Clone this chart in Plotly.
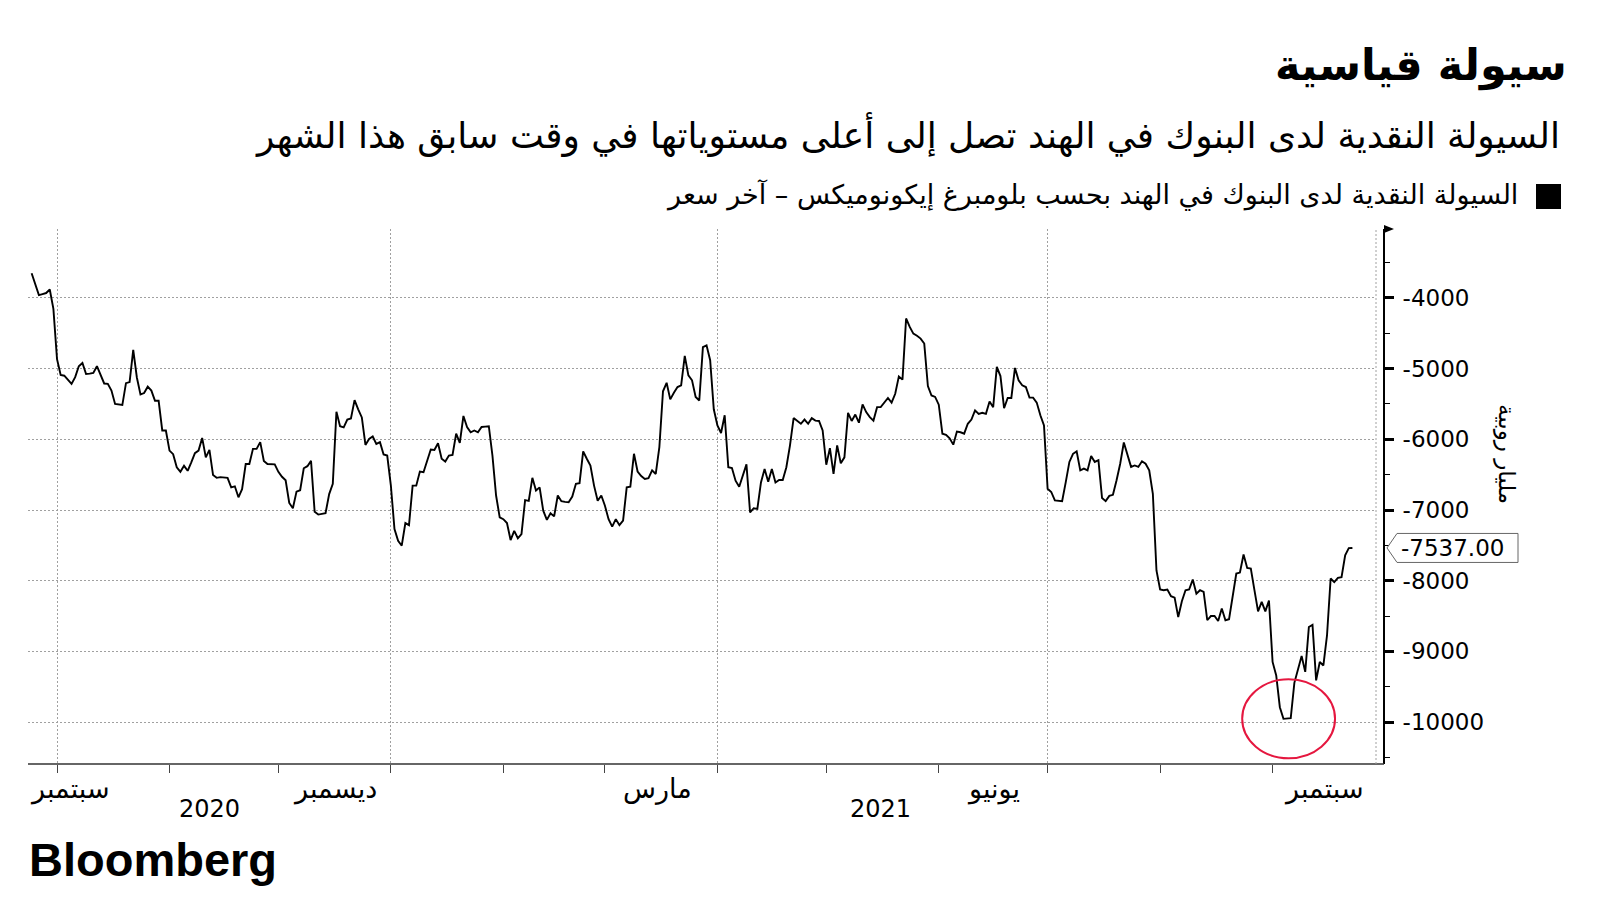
import plotly.graph_objects as go

# ---------------- data ----------------
dates = [
    "2020-09-24", "2020-09-25", "2020-09-26", "2020-09-27", "2020-09-28", "2020-09-29", "2020-09-30",
    "2020-10-01", "2020-10-02", "2020-10-03", "2020-10-04", "2020-10-05", "2020-10-06", "2020-10-07",
    "2020-10-08", "2020-10-09", "2020-10-10", "2020-10-11", "2020-10-12", "2020-10-13", "2020-10-14",
    "2020-10-15", "2020-10-16", "2020-10-17", "2020-10-18", "2020-10-19", "2020-10-20", "2020-10-21",
    "2020-10-22", "2020-10-23", "2020-10-24", "2020-10-25", "2020-10-26", "2020-10-27", "2020-10-28",
    "2020-10-29", "2020-10-30", "2020-10-31",
    "2020-11-01", "2020-11-02", "2020-11-03", "2020-11-04", "2020-11-05", "2020-11-06", "2020-11-07",
    "2020-11-08", "2020-11-09", "2020-11-10", "2020-11-11", "2020-11-12", "2020-11-13", "2020-11-14",
    "2020-11-15", "2020-11-16", "2020-11-17", "2020-11-18", "2020-11-19", "2020-11-20", "2020-11-21",
    "2020-11-22", "2020-11-23", "2020-11-24", "2020-11-25", "2020-11-26", "2020-11-27", "2020-11-28",
    "2020-11-29", "2020-11-30",
    "2020-12-01", "2020-12-02", "2020-12-03", "2020-12-04", "2020-12-05", "2020-12-06", "2020-12-07",
    "2020-12-08", "2020-12-09", "2020-12-10", "2020-12-11", "2020-12-12", "2020-12-13", "2020-12-14",
    "2020-12-15", "2020-12-16", "2020-12-17", "2020-12-18", "2020-12-19", "2020-12-20", "2020-12-21",
    "2020-12-22", "2020-12-23", "2020-12-24", "2020-12-25", "2020-12-26", "2020-12-27", "2020-12-28",
    "2020-12-29", "2020-12-30", "2020-12-31",
    "2021-01-01", "2021-01-02", "2021-01-03", "2021-01-04", "2021-01-05", "2021-01-06", "2021-01-07",
    "2021-01-08", "2021-01-09", "2021-01-10", "2021-01-12", "2021-01-13", "2021-01-14", "2021-01-15",
    "2021-01-16", "2021-01-17", "2021-01-18", "2021-01-19", "2021-01-20", "2021-01-21", "2021-01-22",
    "2021-01-23", "2021-01-24", "2021-01-25", "2021-01-26", "2021-01-27", "2021-01-28", "2021-01-29",
    "2021-01-30", "2021-01-31",
    "2021-02-01", "2021-02-02", "2021-02-03", "2021-02-04", "2021-02-05", "2021-02-06", "2021-02-07",
    "2021-02-08", "2021-02-09", "2021-02-10", "2021-02-11", "2021-02-12", "2021-02-13", "2021-02-14",
    "2021-02-15", "2021-02-16", "2021-02-17", "2021-02-18", "2021-02-19", "2021-02-20", "2021-02-21",
    "2021-02-22", "2021-02-23", "2021-02-24", "2021-02-25", "2021-02-26", "2021-02-27", "2021-02-28",
    "2021-03-01", "2021-03-02", "2021-03-03", "2021-03-04", "2021-03-05", "2021-03-06", "2021-03-07",
    "2021-03-08", "2021-03-09", "2021-03-10", "2021-03-11", "2021-03-12", "2021-03-13", "2021-03-14",
    "2021-03-15", "2021-03-16", "2021-03-17", "2021-03-18", "2021-03-19", "2021-03-20", "2021-03-21",
    "2021-03-22", "2021-03-23", "2021-03-24", "2021-03-25", "2021-03-26", "2021-03-27", "2021-03-28",
    "2021-03-29", "2021-03-30", "2021-03-31",
    "2021-04-01", "2021-04-02", "2021-04-03", "2021-04-04", "2021-04-05", "2021-04-06", "2021-04-07",
    "2021-04-09", "2021-04-10", "2021-04-11", "2021-04-12", "2021-04-13", "2021-04-14", "2021-04-15",
    "2021-04-16", "2021-04-17", "2021-04-18", "2021-04-19", "2021-04-20", "2021-04-21", "2021-04-22",
    "2021-04-23", "2021-04-24", "2021-04-25", "2021-04-26", "2021-04-27", "2021-04-28", "2021-04-29",
    "2021-04-30",
    "2021-05-01", "2021-05-02", "2021-05-03", "2021-05-04", "2021-05-05", "2021-05-06", "2021-05-07",
    "2021-05-08", "2021-05-09", "2021-05-10", "2021-05-11", "2021-05-12", "2021-05-13", "2021-05-14",
    "2021-05-15", "2021-05-16", "2021-05-18", "2021-05-19", "2021-05-20", "2021-05-21", "2021-05-22",
    "2021-05-23", "2021-05-24", "2021-05-25", "2021-05-26", "2021-05-27", "2021-05-28", "2021-05-29",
    "2021-05-30", "2021-05-31",
    "2021-06-01", "2021-06-02", "2021-06-03", "2021-06-04", "2021-06-05", "2021-06-06", "2021-06-07",
    "2021-06-08", "2021-06-09", "2021-06-10", "2021-06-11", "2021-06-12", "2021-06-13", "2021-06-14",
    "2021-06-15", "2021-06-16", "2021-06-17", "2021-06-18", "2021-06-19", "2021-06-20", "2021-06-21",
    "2021-06-22", "2021-06-23", "2021-06-24", "2021-06-25", "2021-06-26", "2021-06-27", "2021-06-28",
    "2021-06-29", "2021-06-30",
    "2021-07-01", "2021-07-02", "2021-07-03", "2021-07-04", "2021-07-05", "2021-07-06", "2021-07-07",
    "2021-07-08", "2021-07-09", "2021-07-10", "2021-07-11", "2021-07-12", "2021-07-13", "2021-07-14",
    "2021-07-15", "2021-07-16", "2021-07-17", "2021-07-18", "2021-07-19", "2021-07-20", "2021-07-21",
    "2021-07-22", "2021-07-23", "2021-07-24", "2021-07-25", "2021-07-26", "2021-07-27", "2021-07-28",
    "2021-07-29", "2021-07-30", "2021-07-31",
    "2021-08-01", "2021-08-02", "2021-08-03", "2021-08-04", "2021-08-05", "2021-08-06", "2021-08-07",
    "2021-08-08", "2021-08-09", "2021-08-10", "2021-08-11", "2021-08-12", "2021-08-13", "2021-08-14",
    "2021-08-15", "2021-08-16", "2021-08-17", "2021-08-18", "2021-08-19", "2021-08-20", "2021-08-21",
    "2021-08-22", "2021-08-23", "2021-08-24", "2021-08-25", "2021-08-26", "2021-08-27", "2021-08-28",
    "2021-08-29", "2021-08-30", "2021-08-31",
    "2021-09-01", "2021-09-02", "2021-09-03", "2021-09-04", "2021-09-05", "2021-09-06", "2021-09-07",
    "2021-09-08", "2021-09-09", "2021-09-10", "2021-09-11", "2021-09-12", "2021-09-13", "2021-09-14",
    "2021-09-15", "2021-09-16", "2021-09-17", "2021-09-18", "2021-09-19", "2021-09-20", "2021-09-21",
    "2021-09-22", "2021-09-23",
]

liquidity = [
    -3650, -3815, -3960, -3945, -3930, -3880, -4155,
    -4865, -5090, -5100, -5160, -5215, -5120, -4965,
    -4920, -5075, -5070, -5060, -4965, -5075, -5210,
    -5215, -5310, -5500, -5510, -5515, -5205, -5190,
    -4735, -5125, -5365, -5345, -5255, -5310, -5455,
    -5455, -5875, -5875,
    -6160, -6210, -6395, -6460, -6375, -6445, -6325,
    -6195, -6160, -5980, -6255, -6150, -6505, -6545,
    -6535, -6540, -6545, -6680, -6665, -6820, -6705,
    -6350, -6350, -6135, -6135, -6040, -6305, -6350,
    -6350, -6355,
    -6460, -6530, -6580, -6900, -6975, -6740, -6720,
    -6410, -6380, -6305, -7025, -7065, -7055, -7045,
    -6775, -6630, -5610, -5815, -5830, -5720, -5705,
    -5445, -5575, -5690, -6080, -5995, -5960, -6065,
    -6040, -6215, -6230,
    -6650, -7270, -7435, -7505, -7185, -7215, -6655,
    -6655, -6455, -6465, -6145, -6150, -6055, -6275,
    -6315, -6230, -6220, -5920, -6050, -5670, -5825,
    -5900, -5875, -5900, -5825, -5820, -5815, -6230,
    -6795, -7105,
    -7130, -7185, -7425, -7295, -7400, -7340, -6860,
    -6870, -6545, -6725, -6680, -7010, -7140, -7045,
    -7090, -6795, -6875, -6885, -6890, -6810, -6630,
    -6620, -6170, -6275, -6370, -6655, -6870, -6795,
    -6940, -7130, -7235, -7130, -7215, -7150, -6680,
    -6670, -6205, -6455, -6520, -6560, -6550, -6440,
    -6490, -6110, -5320, -5200, -5435, -5340, -5260,
    -5235, -4820, -5095, -5165, -5400, -5450, -4695,
    -4670, -4880, -5575,
    -5805, -5910, -5660, -6395, -6405, -6585, -6670,
    -6355, -7035, -6975, -6985, -6610, -6420, -6600,
    -6420, -6610, -6575, -6575, -6395, -6085, -5700,
    -5735, -5780, -5720, -5780, -5700, -5735, -5740,
    -5875,
    -6360, -6125, -6490, -6085, -6340, -6255, -5625,
    -5740, -5650, -5765, -5505, -5615, -5685, -5735,
    -5545, -5545, -5415, -5480, -5355, -5110, -5155,
    -4290, -4410, -4505, -4535, -4575, -4645, -5245,
    -5380, -5400,
    -5510, -5920, -5935, -5985, -6075, -5890, -5900,
    -5920, -5780, -5720, -5590, -5640, -5625, -5640,
    -5465, -5545, -4975, -5105, -5560, -5415, -5415,
    -4990, -5165, -5235, -5260, -5410, -5410, -5480,
    -5660, -5805,
    -6700, -6745, -6865, -6875, -6875, -6605, -6320,
    -6205, -6170, -6440, -6415, -6440, -6235, -6320,
    -6295, -6830, -6875, -6800, -6785, -6580, -6345,
    -6045, -6205, -6390, -6370, -6390, -6310, -6345,
    -6440, -6770, -7855,
    -8125, -8135, -8125, -8220, -8240, -8515, -8290,
    -8135, -8125, -7985, -8185, -8135, -8160, -8560,
    -8500, -8500, -8570, -8395, -8560, -8545, -8185,
    -7900, -7885, -7630, -7820, -7830, -8135, -8435,
    -8300, -8435, -8280,
    -9150, -9340, -9790, -9955, -9945, -9945, -9445,
    -9245, -9065, -9290, -8655, -8625, -9410, -9150,
    -9200, -8775, -7970, -8020, -7960, -7950, -7640,
    -7540, -7537,
]

last_value = -7537.00

y_tick_values = [-4000, -5000, -6000, -7000, -8000, -9000, -10000]
y_tick_labels = ["-4000", "-5000", "-6000", "-7000", "-8000", "-9000", "-10000"]
y_minor_values = [-3500, -4500, -5500, -6500, -7500, -8500, -9500, -10500]

month_starts = ["2020-10-01", "2020-11-01", "2020-12-01", "2021-01-01", "2021-02-01",
                "2021-03-01", "2021-04-01", "2021-05-01", "2021-06-01", "2021-07-01",
                "2021-08-01", "2021-09-01"]
quarter_starts = ["2020-10-01", "2021-01-01", "2021-04-01", "2021-07-01"]

month_label_dates = ["2020-12-16 12:00", "2021-03-15 12:00", "2021-06-16", "2021-09-15 06:00"]
month_label_texts = ["ديسمبر", "مارس", "يونيو", "سبتمبر"]
first_month_label = "سبتمبر"
year_label_dates = ["2020-11-12", "2021-05-16"]
year_label_texts = ["2020", "2021"]

title_text = "سيولة قياسية"
subtitle_text = "السيولة النقدية لدى البنوك في الهند تصل إلى أعلى مستوياتها في وقت سابق هذا الشهر"
legend_text = "السيولة النقدية لدى البنوك في الهند بحسب بلومبرغ إيكونوميكس – آخر سعر"
y_title_text = "مليار روبية"

# ---------------- layout geometry (pixels) ----------------
W_FIG, H_FIG = 1600, 900
L, R, T, B = 28, 1384, 229, 764
PW, PH = R - L, B - T


def px(x):
    return (x - L) / PW


def py(y):
    return (B - y) / PH


AR_FONT = "DejaVu Sans"
GRID = "#a0a0a0"

fig = go.Figure()
fig.add_trace(go.Scatter(
    x=dates, y=liquidity, mode="lines",
    line=dict(color="black", width=1.9),
    hoverinfo="skip", showlegend=False,
))

fig.update_layout(
    width=W_FIG, height=H_FIG,
    margin=dict(l=L, r=W_FIG - R, t=T, b=H_FIG - B, autoexpand=False),
    paper_bgcolor="white", plot_bgcolor="white",
    showlegend=False,
    font=dict(family=AR_FONT, color="black"),
    xaxis=dict(
        type="date",
        domain=[0, px(1376)],
        range=["2020-09-23", "2021-09-29 12:00"],
        tickmode="array", tickvals=quarter_starts,
        showticklabels=False,
        ticks="outside", ticklen=8, tickcolor="#444", tickwidth=1,
        showgrid=True, gridcolor=GRID, gridwidth=1, griddash="2px,2px",
        minor=dict(tickmode="array", tickvals=month_starts, ticks="outside",
                   ticklen=8, tickcolor="#444", tickwidth=1, showgrid=False),
        showline=False, zeroline=False, fixedrange=True,
    ),
    yaxis=dict(
        side="right", anchor="free", position=1.0,
        range=[-10594, -3024],
        tickmode="array", tickvals=y_tick_values, ticktext=y_tick_labels,
        ticks="outside", ticklen=9, tickwidth=3, tickcolor="black",
        ticklabelstandoff=4,
        tickfont=dict(family="DejaVu Sans", size=23, color="black"),
        minor=dict(tickmode="array", tickvals=y_minor_values, ticks="outside",
                   ticklen=5, tickwidth=1, tickcolor="black", showgrid=False),
        showgrid=True, gridcolor=GRID, gridwidth=1, griddash="2px,2px",
        showline=True, linecolor="black", linewidth=2,
        zeroline=False, fixedrange=True,
    ),
)

shapes = []
# x axis baseline running into the y axis
shapes.append(dict(type="line", xref="paper", yref="paper", x0=0, x1=1, y0=0, y1=0,
                   line=dict(color="#333", width=1.5)))
# dotted right edge of the plot
shapes.append(dict(type="line", xref="paper", yref="paper", x0=px(1376), x1=px(1376), y0=0, y1=1,
                   line=dict(color=GRID, width=1, dash="2px,2px")))
# small arrow at top of y axis
shapes.append(dict(type="path", xref="paper", yref="paper",
                   path=f"M {px(1384)},{py(225)} L {px(1394)},{py(229)} L {px(1384)},{py(233)} Z",
                   fillcolor="black", line=dict(width=0)))
# last value flag
hh = 14.5 / (PH / (-3024 + 10594))
shapes.append(dict(type="path", xref="paper", yref="y",
                   path=(f"M {px(1387)},{last_value} L {px(1397)},{last_value + hh} "
                         f"L {px(1518)},{last_value + hh} L {px(1518)},{last_value - hh} "
                         f"L {px(1397)},{last_value - hh} Z"),
                   fillcolor="white", line=dict(color="#666", width=1)))
# legend square
shapes.append(dict(type="rect", xref="paper", yref="paper",
                   x0=px(1536), x1=px(1561), y0=py(209), y1=py(184),
                   fillcolor="black", line=dict(width=0)))
# red circle highlighting the trough
shapes.append(dict(type="circle", xref="x", yref="y",
                   x0="2021-08-23 15:00", x1="2021-09-18 05:00", y0=-10513, y1=-9395,
                   line=dict(color="#e5173f", width=2)))
fig.update_layout(shapes=shapes)

ann = []
ann.append(dict(text=title_text, xref="paper", yref="paper", x=px(1569), y=py(66),
                xanchor="right", yanchor="middle", showarrow=False,
                font=dict(family=AR_FONT, size=43, color="black", weight="bold")))
ann.append(dict(text=subtitle_text, xref="paper", yref="paper", x=px(1562), y=py(135),
                xanchor="right", yanchor="middle", showarrow=False,
                font=dict(family=AR_FONT, size=36, color="black")))
ann.append(dict(text=legend_text, xref="paper", yref="paper", x=px(1520), y=py(195),
                xanchor="right", yanchor="middle", showarrow=False,
                font=dict(family=AR_FONT, size=27, color="black")))
ann.append(dict(text=y_title_text, xref="paper", yref="paper", x=px(1507), y=py(454),
                xanchor="center", yanchor="middle", showarrow=False, textangle=90,
                font=dict(family=AR_FONT, size=23, color="black")))
ann.append(dict(text="-7537.00", xref="paper", yref="y", x=px(1399), y=last_value,
                xanchor="left", yanchor="middle", showarrow=False,
                font=dict(family="DejaVu Sans", size=23, color="black")))
ann.append(dict(text=first_month_label, xref="paper", yref="paper", x=0, y=py(789),
                xanchor="left", yanchor="middle", showarrow=False,
                font=dict(family=AR_FONT, size=27, color="black")))
for d, t in zip(month_label_dates, month_label_texts):
    ann.append(dict(text=t, xref="x", yref="paper", x=d, y=py(789),
                    xanchor="center", yanchor="middle", showarrow=False,
                    font=dict(family=AR_FONT, size=27, color="black")))
for d, t in zip(year_label_dates, year_label_texts):
    ann.append(dict(text=t, xref="x", yref="paper", x=d, y=py(809),
                    xanchor="center", yanchor="middle", showarrow=False,
                    font=dict(family="DejaVu Sans", size=24, color="black")))
ann.append(dict(text="Bloomberg", xref="paper", yref="paper", x=px(27), y=py(859),
                xanchor="left", yanchor="middle", showarrow=False,
                font=dict(family="Liberation Sans", size=47, color="black", weight="bold")))
fig.update_layout(annotations=ann)

fig.write_html("out.html", config={"displayModeBar": False},
               post_script="document.body.style.margin='0';")
